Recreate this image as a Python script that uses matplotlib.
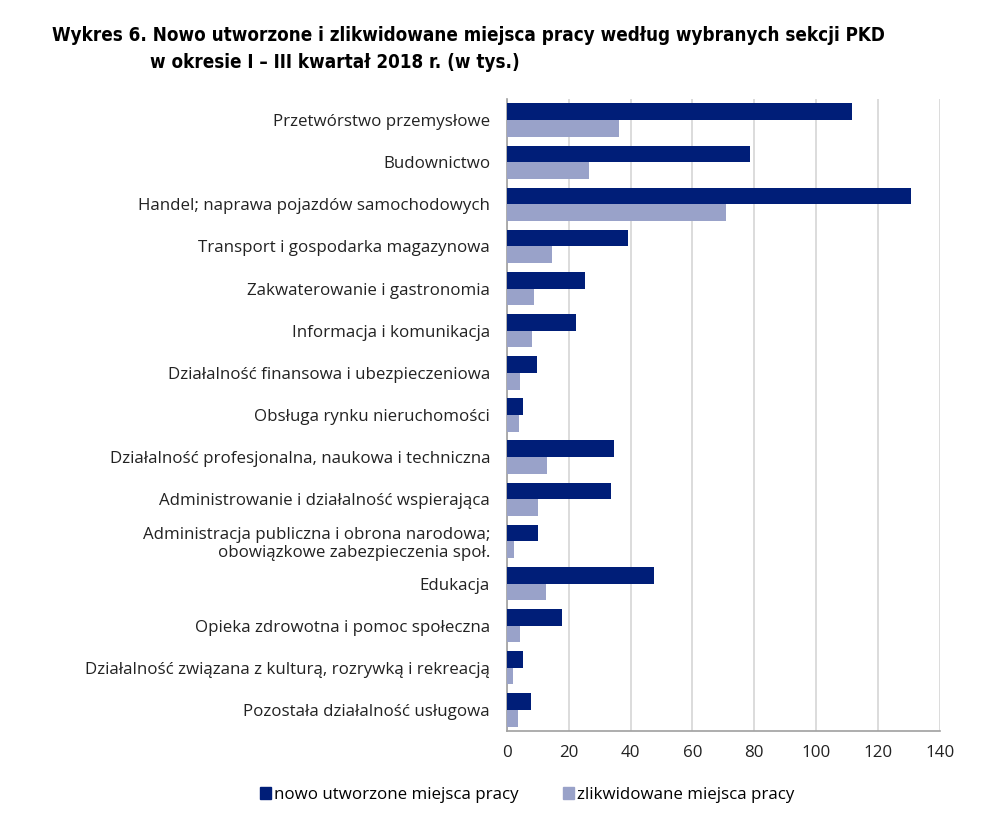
import numpy as np
import matplotlib.pyplot as plt
from matplotlib.patches import Patch

# Sections of PKD (top to bottom)
categories = [
    "Przetwórstwo przemysłowe",
    "Budownictwo",
    "Handel; naprawa pojazdów samochodowych",
    "Transport i gospodarka magazynowa",
    "Zakwaterowanie i gastronomia",
    "Informacja i komunikacja",
    "Działalność finansowa i ubezpieczeniowa",
    "Obsługa rynku nieruchomości",
    "Działalność profesjonalna, naukowa i techniczna",
    "Administrowanie i działalność wspierająca",
    "Administracja publiczna i obrona narodowa;\nobowiązkowe zabezpieczenia społ.",
    "Edukacja",
    "Opieka zdrowotna i pomoc społeczna",
    "Działalność związana z kulturą, rozrywką i rekreacją",
    "Pozostała działalność usługowa",
]

# thousands of jobs
created = [111.5, 78.7, 130.7, 39.3, 25.3, 22.3, 9.8, 5.4, 34.8, 33.8, 10.1, 47.7, 17.8, 5.4, 7.9]
liquidated = [36.2, 26.6, 70.9, 14.6, 8.8, 8.1, 4.3, 3.9, 13.1, 10.0, 2.4, 12.7, 4.3, 2.1, 3.7]

xticks = [0, 20, 40, 60, 80, 100, 120, 140]

dark = "#001e78"
light = "#99a2c9"

plt.rcParams['font.family'] = ['Open Sans', 'DejaVu Sans']

fig = plt.figure(figsize=(10.04, 8.23), dpi=100)
ax = fig.add_axes([0.5047, 0.1118, 0.4316, 0.7679])

y = np.arange(len(categories))
h = 0.395
ax.barh(y - h / 2, created, height=h, color=dark, zorder=3)
ax.barh(y + h / 2, liquidated, height=h, color=light, zorder=3)

ax.set_ylim(len(categories) - 0.5, -0.5)
ax.set_xlim(0, 140)
ax.set_xticks(xticks)
ax.set_yticks(y)
ax.set_yticklabels(categories, fontsize=12.2, color="#222222", linespacing=1.1)
ax.tick_params(axis='x', labelsize=12.2, colors="#222222", length=0, pad=10)
ax.tick_params(axis='y', length=0, pad=12)

ax.grid(axis='x', color="#d6d6d6", linewidth=1.2, zorder=0)
for s in ['top', 'right']:
    ax.spines[s].set_visible(False)
for s in ['left', 'bottom']:
    ax.spines[s].set_color("#a0a0a0")
    ax.spines[s].set_linewidth(1.2)

title_font = dict(fontsize=13.5, fontweight='bold', family='DejaVu Sans', fontstretch='condensed', va='center')
fig.text(0.052, 0.957, "Wykres 6. Nowo utworzone i zlikwidowane miejsca pracy według wybranych sekcji PKD", **title_font)
fig.text(0.149, 0.924, "w okresie I – III kwartał 2018 r. (w tys.)", **title_font)

handles = [Patch(color=dark, label="nowo utworzone miejsca pracy"),
           Patch(color=light, label="zlikwidowane miejsca pracy")]
fig.legend(handles=handles, loc='center', bbox_to_anchor=(0.525, 0.034), ncol=2, frameon=False,
           fontsize=12.2, handlelength=0.65, handleheight=0.65, handletextpad=0.2, columnspacing=2.6)

fig.savefig("out.png", dpi=100)
